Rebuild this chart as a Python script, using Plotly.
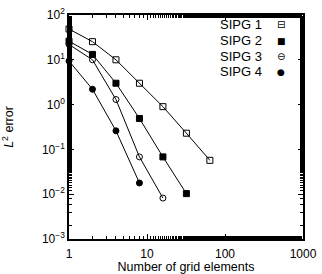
import plotly.graph_objects as go

elements = [1, 2, 4, 8, 16, 32, 64]
sipg1 = [48.7, 25.4, 10.0, 3.0, 0.9, 0.23, 0.057]
sipg2 = [26.0, 13.2, 3.0, 0.49, 0.068, 0.0103]
sipg3 = [22.0, 10.0, 1.3, 0.068, 0.0082]
sipg4 = [9.4, 2.2, 0.26, 0.0178]
names = ["SIPG 1", "SIPG 2", "SIPG 3", "SIPG 4"]
symbols = ["square-open", "square", "circle-open", "circle"]
legend_glyphs = ["⊟", "■", "⊖", "●"]
xtickvals = [1, 10, 100, 1000]
xticktext = ["1", "10", "100", "1000"]
ytickvals = [1e-3, 1e-2, 1e-1, 1, 10, 100]
yticktext = ["10<sup>−3</sup>", "10<sup>−2</sup>", "10<sup>−1</sup>",
             "10<sup>0</sup>", "10<sup>1</sup>", "10<sup>2</sup>"]

FONT = "Liberation Sans, Arial, Helvetica"

fig = go.Figure()
for name, ys, sym in zip(names, [sipg1, sipg2, sipg3, sipg4], symbols):
    fig.add_trace(go.Scatter(
        x=elements[:len(ys)], y=ys, name=name, mode="lines+markers",
        line=dict(color="black", width=1),
        marker=dict(symbol=sym, size=6, color="black", line=dict(color="black", width=1)),
        showlegend=False, cliponaxis=False,
    ))

# legend (text right-aligned, sample symbol on the right, as in the original)
row_y = [0.958, 0.884, 0.814, 0.747]
for name, glyph, yy in zip(names, legend_glyphs, row_y):
    fig.add_annotation(x=0.833, y=yy, xref="paper", yref="paper", text=name,
                       showarrow=False, xanchor="right", yanchor="middle",
                       font=dict(family=FONT, size=13, color="black"))
    fig.add_annotation(x=0.906, y=yy, xref="paper", yref="paper", text=glyph,
                       showarrow=False, xanchor="center", yanchor="middle",
                       font=dict(family="DejaVu Sans", size=9 if glyph in "■●" else 10,
                                 color="black"))

axis_common = dict(
    showline=True, linecolor="black", linewidth=1.5, mirror="ticks",
    ticks="inside", ticklen=5, tickcolor="black", showgrid=False, zeroline=False,
    tickfont=dict(family=FONT, size=12, color="black"),
    minor=dict(ticks="inside", ticklen=3, tickcolor="black", showgrid=False),
    automargin=False,
)
fig.update_xaxes(type="log", range=[0, 3], tickvals=xtickvals, ticktext=xticktext,
                 ticklabelstandoff=3,
                 title=dict(text="Number of grid elements", standoff=0,
                            font=dict(family=FONT, size=12.5, color="black")),
                 **axis_common)
fig.update_yaxes(type="log", range=[-3, 2], tickvals=ytickvals, ticktext=yticktext,
                 title=dict(text="<i>L</i><sup>2</sup> error", standoff=32,
                            font=dict(family=FONT, size=12.5, color="black")),
                 **axis_common)
fig.update_layout(
    width=322, height=274, margin=dict(l=69, r=19, t=15, b=35),
    plot_bgcolor="white", paper_bgcolor="white",
    font=dict(family=FONT, size=12, color="black"),
    showlegend=False,
)
fig.write_html("out.html", config={"displayModeBar": False},
               post_script="document.body.style.margin='0';")
